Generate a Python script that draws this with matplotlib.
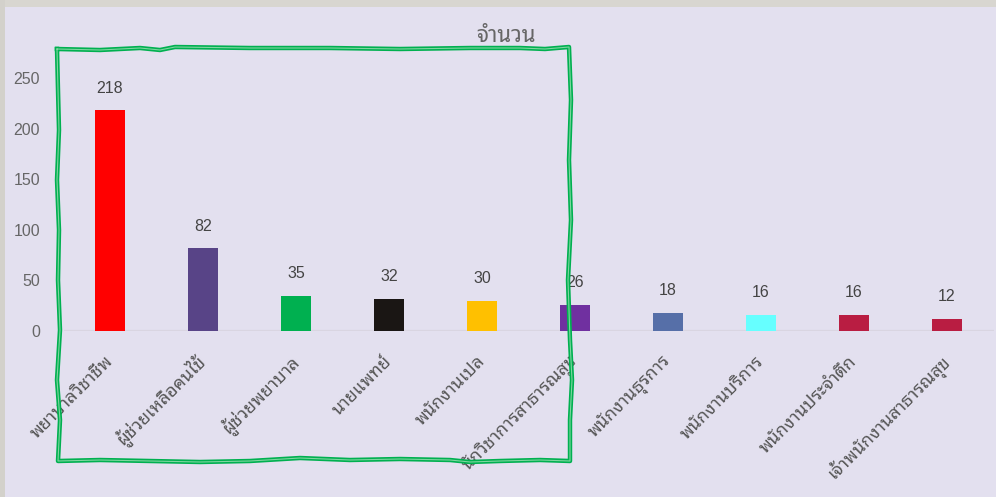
import matplotlib
matplotlib.use("Agg")
import matplotlib.pyplot as plt
from matplotlib.patches import Rectangle
from matplotlib.lines import Line2D

categories = ["พยาบาลวิชาชีพ", "ผู้ช่วยเหลือคนไข้", "ผู้ช่วยพยาบาล", "นายแพทย์", "พนักงานเปล",
              "นักวิชาการสาธารณสุข", "พนักงานธุรการ", "พนักงานบริการ", "พนักงานประจำตึก",
              "เจ้าพนักงานสาธารณสุข"]
values = [218, 82, 35, 32, 30, 26, 18, 16, 16, 12]
bar_colors = ["#FF0000", "#584487", "#00B050", "#1A1614", "#FFC000", "#7030A0",
              "#566FA8", "#66FFFF", "#B91D42", "#B91D42"]
y_ticks = [0, 50, 100, 150, 200, 250]
title = "จำนวน"

W, H = 996, 497
bg = "#E3E0EF"
thai = ["Noto Sans Thai Looped", "DejaVu Sans"]
num = ["Liberation Sans", "DejaVu Sans"]

fig = plt.figure(figsize=(W / 100, H / 100), dpi=100, facecolor=bg)

# frame bands
fig.patches.append(Rectangle((0, 1 - 7 / H), 1, 7 / H, transform=fig.transFigure,
                             facecolor="#D8D6D0", edgecolor="none", zorder=0))
fig.patches.append(Rectangle((0, 0), 5 / W, 1, transform=fig.transFigure,
                             facecolor="#D3D1CB", edgecolor="none", zorder=0))

ax_l, ax_r, ax_b, ax_t = 63.5, 993.5, 331, 68
ax = fig.add_axes([ax_l / W, 1 - ax_b / H, (ax_r - ax_l) / W, (ax_b - ax_t) / H])
ax.set_facecolor("none")
x = list(range(len(categories)))
ax.bar(x, values, width=0.32, color=bar_colors, zorder=2)
ax.set_xlim(-0.5, len(categories) - 0.5)
ax.set_ylim(0, 260)
for s in ax.spines.values():
    s.set_visible(False)
ax.axhline(0, color="#D9D5E1", lw=1.6, zorder=1)

ax.set_yticks(y_ticks)
ax.set_yticklabels([str(t) for t in y_ticks], family=num, fontsize=11.5, color="#666666")
ax.tick_params(axis="y", length=0, pad=17)
ax.set_xticks(x)
ax.set_xticklabels(categories, rotation=45, ha="right", va="center", rotation_mode="anchor",
                   family=thai, fontsize=12.8, color="#555555")
ax.tick_params(axis="x", length=0, pad=20)

for xi, v in zip(x, values):
    ax.annotate(str(v), (xi, v), xytext=(0, 22), textcoords="offset pixels",
                ha="center", va="center", family=num, fontsize=11.5, color="#444444")

fig.text(506 / W, 1 - 36 / H, title, ha="center", va="center", family=thai,
         fontsize=16, color="#666666")

# hand-drawn green box annotation
box_pts = [(57, 49), (100, 50), (140, 48), (160, 50), (175, 47), (250, 48), (330, 48),
           (400, 49), (470, 48), (520, 48), (545, 49), (569, 47),
           (571, 100), (569, 160), (571, 220), (568, 280), (570, 340), (572, 380),
           (570, 420), (570, 461),
           (540, 460), (500, 461), (470, 462), (450, 460), (400, 459), (350, 460),
           (300, 458), (250, 461), (200, 462), (150, 461), (100, 460), (58, 461),
           (60, 420), (57, 380), (60, 330), (58, 280), (59, 230), (57, 180), (59, 130),
           (58, 90), (57, 49)]
bx = [p[0] / W for p in box_pts]
by = [1 - p[1] / H for p in box_pts]
fig.lines.append(Line2D(bx, by, transform=fig.transFigure, color="#00B050", lw=3.2,
                        solid_joinstyle="round", zorder=10))
fig.lines.append(Line2D(bx, by, transform=fig.transFigure, color="#7FD6A0", lw=0.8,
                        solid_joinstyle="round", zorder=11))

fig.savefig("out.png", dpi=100, facecolor=bg)
